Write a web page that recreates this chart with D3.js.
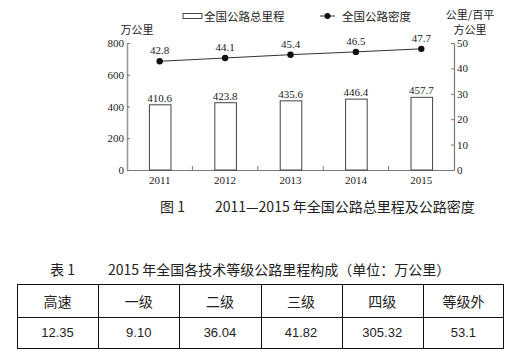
<!DOCTYPE html>
<html>
<head>
<meta charset="utf-8">
<title>全国公路总里程及公路密度</title>
<style type="text/css">
body {
	margin: 0;
	background: #fff;
}
.serif {
	font-family: "Liberation Serif", "Noto Sans CJK SC", serif;
}
.cjk {
	font-family: "Noto Sans CJK SC", sans-serif;
}
.tbl {
	font-family: "Liberation Sans", "Noto Sans CJK SC", sans-serif;
}
</style>
<script src="https://cdn.jsdelivr.net/npm/d3@7"></script>
</head>
<body>
<div id="chart"></div>

<script type="text/javascript">
	// data
	var years = [ '2011', '2012', '2013', '2014', '2015' ];
	var mileage = [ 410.6, 423.8, 435.6, 446.4, 457.7 ];
	var density = [ 42.8, 44.1, 45.4, 46.5, 47.7 ];
	var leftTicks = [ 0, 200, 400, 600, 800 ];
	var rightTicks = [ 0, 10, 20, 30, 40, 50 ];

	var gradeNames = [ '高速', '一级', '二级', '三级', '四级', '等级外' ];
	var gradeValues = [ '12.35', '9.10', '36.04', '41.82', '305.32', '53.1' ];

	var width = 511, height = 354;

	var svg = d3.select('#chart').append('svg')
		.attr('width', width)
		.attr('height', height);

	svg.append('rect').attr('width', width).attr('height', height).attr('fill', 'white');

	// scales
	var x = d3.scaleBand().domain(years).range([ 127, 454 ])
		.paddingInner(0.67).paddingOuter(0.335);
	var y = d3.scaleLinear().domain([ 0, 800 ]).range([ 170, 43 ]);
	var yR = d3.scaleLinear().domain([ 0, 50 ]).range([ 170, 43 ]);

	// left axis, ticks pointing inward
	var gl = svg.append('g').attr('class', 'serif')
		.attr('transform', 'translate(127,0)')
		.call(d3.axisLeft(y).tickValues(leftTicks).tickSize(-3).tickSizeOuter(0).tickPadding(3));
	gl.attr('font-family', null);
	gl.select('.domain').attr('stroke', '#999').attr('stroke-width', 1.6);
	gl.selectAll('.tick line').attr('stroke', '#777');
	gl.selectAll('.tick text').attr('font-size', 11).attr('fill', '#222');

	// right axis
	var gr = svg.append('g').attr('class', 'serif')
		.attr('transform', 'translate(454,0)')
		.call(d3.axisRight(yR).tickValues(rightTicks).tickSize(-3).tickSizeOuter(0).tickPadding(3));
	gr.attr('font-family', null);
	gr.select('.domain').attr('stroke', '#777').attr('stroke-width', 1.2);
	gr.selectAll('.tick line').attr('stroke', '#777');
	gr.selectAll('.tick text').attr('font-size', 11).attr('fill', '#222');

	// bottom axis: labels under bars, ticks between bands
	var gb = svg.append('g').attr('class', 'serif')
		.attr('transform', 'translate(0,170)')
		.call(d3.axisBottom(x).tickSize(0).tickPadding(6));
	gb.attr('font-family', null);
	gb.select('.domain').attr('stroke', '#777').attr('stroke-width', 1.2);
	gb.selectAll('.tick text').attr('font-size', 11).attr('fill', '#222');

	var step = x.step();
	svg.append('g').selectAll('line')
		.data(years.slice(1))
		.enter().append('line')
		.attr('x1', function(d) { return x(d) - step * x.paddingInner() / 2; })
		.attr('x2', function(d) { return x(d) - step * x.paddingInner() / 2; })
		.attr('y1', 170).attr('y2', 166)
		.attr('stroke', '#777');

	// bars
	svg.append('g').selectAll('rect')
		.data(mileage)
		.enter().append('rect')
		.attr('x', function(d, i) { return x(years[i]) + 0.5; })
		.attr('y', function(d) { return y(d); })
		.attr('width', x.bandwidth())
		.attr('height', function(d) { return y(0) - y(d); })
		.attr('fill', 'white')
		.attr('stroke', '#444')
		.attr('stroke-width', 1);

	svg.append('g').attr('class', 'serif').selectAll('text')
		.data(mileage)
		.enter().append('text')
		.attr('x', function(d, i) { return x(years[i]) + x.bandwidth() / 2; })
		.attr('y', function(d) { return y(d) - 3; })
		.attr('text-anchor', 'middle')
		.attr('font-size', 11)
		.attr('fill', '#222')
		.text(function(d) { return d.toFixed(1); });

	// density line
	var line = d3.line()
		.x(function(d, i) { return x(years[i]) + x.bandwidth() / 2; })
		.y(function(d) { return yR(d); });

	svg.append('path')
		.datum(density)
		.attr('d', line)
		.attr('fill', 'none')
		.attr('stroke', '#333')
		.attr('stroke-width', 1);

	svg.append('g').selectAll('circle')
		.data(density)
		.enter().append('circle')
		.attr('cx', function(d, i) { return x(years[i]) + x.bandwidth() / 2; })
		.attr('cy', function(d) { return yR(d); })
		.attr('r', 3.2)
		.attr('fill', '#111');

	svg.append('g').attr('class', 'serif').selectAll('text')
		.data(density)
		.enter().append('text')
		.attr('x', function(d, i) { return x(years[i]) + x.bandwidth() / 2; })
		.attr('y', function(d) { return yR(d) - 7; })
		.attr('text-anchor', 'middle')
		.attr('font-size', 11)
		.attr('fill', '#222')
		.text(function(d) { return d.toFixed(1); });

	// axis titles
	svg.append('text').attr('class', 'cjk')
		.attr('x', 137).attr('y', 34)
		.attr('text-anchor', 'middle')
		.attr('font-size', 11)
		.attr('fill', '#222')
		.text('万公里');
	svg.append('text').attr('class', 'cjk')
		.attr('x', 470).attr('y', 19)
		.attr('text-anchor', 'middle')
		.attr('font-size', 11)
		.attr('fill', '#222')
		.text('公里/百平');
	svg.append('text').attr('class', 'cjk')
		.attr('x', 470).attr('y', 34)
		.attr('text-anchor', 'middle')
		.attr('font-size', 11)
		.attr('fill', '#222')
		.text('方公里');

	// legend
	var legend = svg.append('g').attr('class', 'cjk');
	legend.append('rect')
		.attr('x', 183).attr('y', 13.5).attr('width', 19).attr('height', 5)
		.attr('fill', 'white').attr('stroke', '#444');
	legend.append('text')
		.attr('x', 204).attr('y', 20.5)
		.attr('font-size', 11.5).attr('fill', '#222')
		.text('全国公路总里程');
	legend.append('line')
		.attr('x1', 320).attr('x2', 335).attr('y1', 16).attr('y2', 16)
		.attr('stroke', '#333');
	legend.append('circle')
		.attr('cx', 327.5).attr('cy', 16).attr('r', 3).attr('fill', '#111');
	legend.append('text')
		.attr('x', 342).attr('y', 20.5)
		.attr('font-size', 11.5).attr('fill', '#222')
		.text('全国公路密度');

	// figure caption
	svg.append('text').attr('class', 'cjk')
		.attr('x', 160).attr('y', 212)
		.attr('font-size', 14).attr('fill', '#222')
		.text('图 1');
	svg.append('text').attr('class', 'cjk')
		.attr('x', 215).attr('y', 212)
		.attr('font-size', 14).attr('fill', '#222')
		.text('2011—2015 年全国公路总里程及公路密度');

	// table
	svg.append('text').attr('class', 'cjk')
		.attr('x', 50).attr('y', 275)
		.attr('font-size', 14).attr('fill', '#222')
		.text('表 1');
	svg.append('text').attr('class', 'cjk')
		.attr('x', 108).attr('y', 275)
		.attr('font-size', 14).attr('fill', '#222')
		.text('2015 年全国各技术等级公路里程构成（单位：万公里）');

	var col = d3.scaleBand().domain(d3.range(gradeNames.length)).range([ 17, 504 ]);
	var rowY = [ 284, 317, 349 ];

	var table = svg.append('g').attr('class', 'tbl');
	table.append('rect')
		.attr('x', 17.5).attr('y', 284.5).attr('width', 486).attr('height', 64)
		.attr('fill', 'none').attr('stroke', '#111');
	table.append('line')
		.attr('x1', 17).attr('x2', 504).attr('y1', rowY[1] + 0.5).attr('y2', rowY[1] + 0.5)
		.attr('stroke', '#111');
	table.selectAll('line.col')
		.data(d3.range(1, gradeNames.length))
		.enter().append('line').attr('class', 'col')
		.attr('x1', function(d) { return Math.round(col(d)) + 0.5; })
		.attr('x2', function(d) { return Math.round(col(d)) + 0.5; })
		.attr('y1', rowY[0]).attr('y2', rowY[2])
		.attr('stroke', '#111');

	table.selectAll('text.head')
		.data(gradeNames)
		.enter().append('text').attr('class', 'head')
		.attr('x', function(d, i) { return col(i) + col.bandwidth() / 2; })
		.attr('y', 307)
		.attr('text-anchor', 'middle')
		.attr('font-size', 14).attr('fill', '#222')
		.attr('font-family', '"Noto Sans CJK SC", sans-serif')
		.text(function(d) { return d; });

	table.selectAll('text.val')
		.data(gradeValues)
		.enter().append('text').attr('class', 'val')
		.attr('x', function(d, i) { return col(i) + col.bandwidth() / 2; })
		.attr('y', 337)
		.attr('text-anchor', 'middle')
		.attr('font-size', 13).attr('fill', '#222')
		.text(function(d) { return d; });
</script>
</body>
</html>
